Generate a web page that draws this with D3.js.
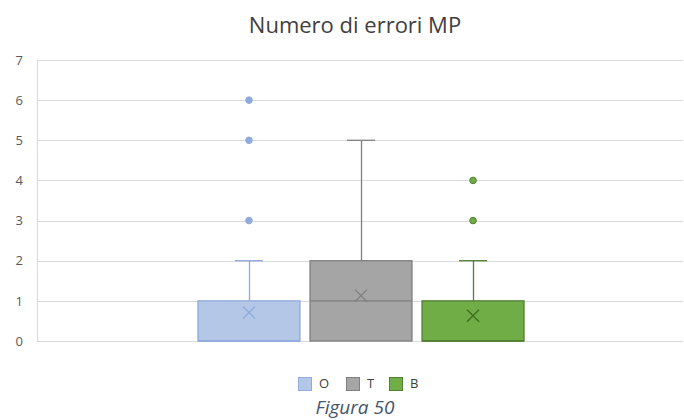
<!DOCTYPE html>
<html lang="it">
<head>
<meta charset="utf-8">
<title>Numero di errori MP</title>
<script src="https://cdn.jsdelivr.net/npm/d3@7"></script>
<style>
  body { margin: 0; background: #fff; }
  svg { display: block; font-family: "Open Sans", "Noto Sans", sans-serif; }
</style>
</head>
<body>
<script>
// dati
var series = ["O", "T", "B"];
var q1 = [0, 0, 0];
var median = [0, 1, 0];
var q3 = [1, 2, 1];
var whiskerLow = [0, 0, 0];
var whiskerHigh = [2, 5, 2];
var means = [0.71, 1.13, 0.63];
var outliers = [[3, 5, 6], [], [3, 4]];
var yTicks = [0, 1, 2, 3, 4, 5, 6, 7];

var fills = ["#b4c7e7", "#a5a5a5", "#70ad47"];
var strokes = ["#8faadc", "#7f7f7f", "#507e32"];
var markColors = ["#8faadc", "#7f7f7f", "#3d6b22"];
var dotColors = ["#8faadc", "#a5a5a5", "#70ad47"];

var width = 684, height = 420;
var plotLeft = 37, plotRight = 683, plotTop = 60, plotBottom = 341;

var svg = d3.select("body").append("svg")
    .attr("width", width)
    .attr("height", height);

var y = d3.scaleLinear().domain([0, 7]).range([plotBottom, plotTop]);
var x = d3.scaleBand().domain(series).range([198, 524]).paddingInner(0.09);

// griglia
svg.append("g")
    .selectAll("line")
    .data(yTicks)
    .enter()
    .append("line")
    .attr("x1", plotLeft).attr("x2", plotRight)
    .attr("y1", function (d) { return Math.round(y(d)) + 0.5; })
    .attr("y2", function (d) { return Math.round(y(d)) + 0.5; })
    .attr("stroke", "#d9d9d9");
svg.append("line")
    .attr("x1", plotLeft + 0.5).attr("x2", plotLeft + 0.5)
    .attr("y1", plotTop).attr("y2", plotBottom)
    .attr("stroke", "#d9d9d9");

var yAxis = d3.axisLeft(y).tickValues(yTicks).tickSize(0).tickPadding(14)
    .tickFormat(d3.format("d"));
var ga = svg.append("g")
    .attr("transform", "translate(" + plotLeft + ",0)")
    .call(yAxis);
ga.select(".domain").remove();
ga.selectAll("text").attr("font-size", 13).attr("fill", "#595959")
    .attr("font-family", "'Open Sans', sans-serif");

// box
var idx = d3.range(series.length);
var g = svg.append("g");
var bw = x.bandwidth();

idx.forEach(function (i) {
    var cx = x(series[i]) + bw / 2;
    // baffo superiore
    g.append("line")
        .attr("x1", Math.round(cx) + 0.5).attr("x2", Math.round(cx) + 0.5)
        .attr("y1", y(q3[i])).attr("y2", y(whiskerHigh[i]))
        .attr("stroke", strokes[i]).attr("stroke-width", 1.3);
    g.append("line")
        .attr("x1", cx - 14).attr("x2", cx + 14)
        .attr("y1", y(whiskerHigh[i])).attr("y2", y(whiskerHigh[i]))
        .attr("stroke", strokes[i]).attr("stroke-width", 1.3);
    // scatola
    g.append("rect")
        .attr("x", x(series[i])).attr("width", bw)
        .attr("y", y(q3[i])).attr("height", y(q1[i]) - y(q3[i]))
        .attr("fill", fills[i])
        .attr("stroke", strokes[i]).attr("stroke-width", 1.3);
    // mediana
    g.append("line")
        .attr("x1", x(series[i])).attr("x2", x(series[i]) + bw)
        .attr("y1", y(median[i])).attr("y2", y(median[i]))
        .attr("stroke", strokes[i]).attr("stroke-width", 1.3);
    // media
    var my = y(means[i]), s = 6;
    g.append("path")
        .attr("d", "M" + (cx - s) + "," + (my - s) + "L" + (cx + s) + "," + (my + s) +
            "M" + (cx - s) + "," + (my + s) + "L" + (cx + s) + "," + (my - s))
        .attr("stroke", markColors[i]).attr("stroke-width", 1.3).attr("fill", "none");
    // valori anomali
    g.selectAll(null)
        .data(outliers[i])
        .enter()
        .append("circle")
        .attr("cx", cx).attr("cy", function (d) { return y(d); })
        .attr("r", 3.3)
        .attr("fill", dotColors[i])
        .attr("stroke", strokes[i]).attr("stroke-width", 1);
});

// titolo
svg.append("text")
    .attr("x", 355).attr("y", 33)
    .attr("text-anchor", "middle")
    .attr("font-size", 22)
    .attr("fill", "#404040")
    .text("Numero di errori MP");

// legenda
var legX = [298, 346, 389];
var leg = svg.append("g");
idx.forEach(function (i) {
    leg.append("rect")
        .attr("x", legX[i] + 0.5).attr("y", 377.5)
        .attr("width", 13).attr("height", 13)
        .attr("fill", fills[i]).attr("stroke", strokes[i]);
    leg.append("text")
        .attr("x", legX[i] + 21).attr("y", 388)
        .attr("font-size", 13).attr("fill", "#404040")
        .text(series[i]);
});

svg.append("text")
    .attr("x", 355).attr("y", 414)
    .attr("text-anchor", "middle")
    .attr("font-size", 19)
    .attr("font-style", "italic")
    .attr("fill", "#44546a")
    .text("Figura 50");
</script>
</body>
</html>
